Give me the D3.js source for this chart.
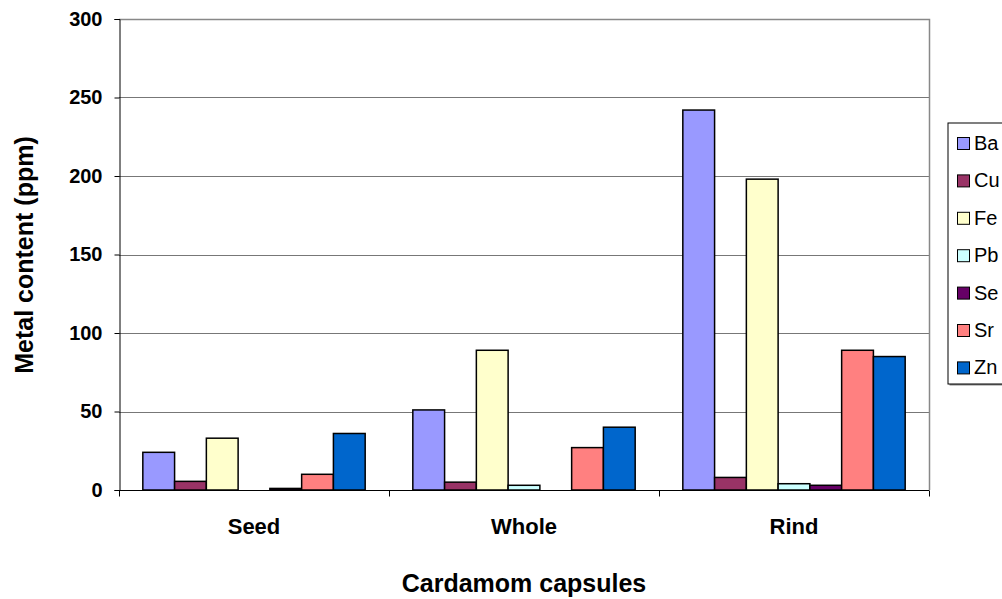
<!DOCTYPE html>
<html>
<head>
<meta charset="utf-8">
<script src="https://cdnjs.cloudflare.com/ajax/libs/d3/7.8.5/d3.min.js"></script>
<style>
  body { margin: 0; background: #fff; }
  svg { font-family: Arial, "Liberation Sans", sans-serif; }
</style>
</head>
<body>
<div id="chart"></div>
<script>
var categories = ['Seed', 'Whole', 'Rind'];
var metals = ['Ba', 'Cu', 'Fe', 'Pb', 'Se', 'Sr', 'Zn'];
var colors = ['#9999FF', '#993366', '#FFFFCC', '#CCFFFF', '#660066', '#FF8080', '#0066CC'];
var baValues = [24, 51, 242];
var cuValues = [5.5, 5, 8];
var feValues = [33, 89, 198];
var pbValues = [0, 3, 4];
var seValues = [1, 0, 3];
var srValues = [10, 27, 89];
var znValues = [36, 40, 85];
var yTicks = [0, 50, 100, 150, 200, 250, 300];

var series = [baValues, cuValues, feValues, pbValues, seValues, srValues, znValues];

var margin = { left: 119, top: 19, right: 929, bottom: 490 };

var svg = d3.select('#chart')
    .append('svg')
    .attr('width', 1002)
    .attr('height', 599);

var x0 = d3.scaleBand()
    .domain(categories)
    .range([margin.left, margin.right]);

// Excel style: gap width 150% -> cluster occupies 7 of 8.5 slots
var x1 = d3.scaleBand()
    .domain(metals)
    .range([x0.bandwidth() * 0.75 / 8.5, x0.bandwidth() * 7.75 / 8.5]);

var y = d3.scaleLinear()
    .domain([0, 300])
    .range([margin.bottom, margin.top]);

// gridlines
svg.append('g')
    .selectAll('line')
    .data(yTicks.filter(d => d > 0 && d < 300))
    .enter()
    .append('line')
    .attr('x1', margin.left)
    .attr('x2', margin.right)
    .attr('y1', d => Math.round(y(d)) + 0.5)
    .attr('y2', d => Math.round(y(d)) + 0.5)
    .style('stroke', '#777')
    .style('stroke-width', 1);

// plot border (top and right)
svg.append('path')
    .attr('d', 'M' + margin.left + ',' + (margin.top + 0.5) + 'H' + (margin.right + 0.5) + 'V' + margin.bottom)
    .style('fill', 'none')
    .style('stroke', '#888')
    .style('stroke-width', 1.5);

// bars
var rows = [];
categories.forEach(function(c, i) {
    metals.forEach(function(m, j) {
        rows.push({ cat: c, metal: m, value: series[j][i], color: colors[j] });
    });
});

svg.append('g')
    .selectAll('rect')
    .data(rows.filter(d => d.value > 0))
    .enter()
    .append('rect')
    .attr('x', d => x0(d.cat) + x1(d.metal))
    .attr('y', d => y(d.value))
    .attr('width', x1.bandwidth())
    .attr('height', d => y(0) - y(d.value))
    .style('fill', d => d.color)
    .style('stroke', '#000')
    .style('stroke-width', 1.5);

// y axis
var yAxis = svg.append('g')
    .attr('transform', 'translate(' + (margin.left + 0.5) + ',0)')
    .call(d3.axisLeft(y).tickValues(yTicks).tickSize(5).tickPadding(12));
yAxis.select('.domain').style('stroke', '#000');
yAxis.selectAll('.tick line').style('stroke', '#000');
yAxis.selectAll('text')
    .style('font-size', '20px')
    .style('font-weight', 'bold')
    .style('fill', '#000');

// x axis
var xAxis = svg.append('g')
    .attr('transform', 'translate(0,' + (margin.bottom + 0.5) + ')');
xAxis.append('line')
    .attr('x1', margin.left)
    .attr('x2', margin.right)
    .style('stroke', '#000');
xAxis.selectAll('.sep')
    .data(categories.concat(['end']))
    .enter()
    .append('line')
    .attr('class', 'sep')
    .attr('x1', (d, i) => Math.round(margin.left + i * x0.step()) + 0.5)
    .attr('x2', (d, i) => Math.round(margin.left + i * x0.step()) + 0.5)
    .attr('y1', 0)
    .attr('y2', 6)
    .style('stroke', '#000');
xAxis.selectAll('text')
    .data(categories)
    .enter()
    .append('text')
    .text(d => d)
    .attr('x', d => x0(d) + x0.bandwidth() / 2)
    .attr('y', 43)
    .style('font-size', '22px')
    .style('font-weight', 'bold')
    .style('text-anchor', 'middle');

// axis titles
svg.append('text')
    .text('Cardamom capsules')
    .attr('x', 524)
    .attr('y', 592)
    .style('font-size', '25px')
    .style('font-weight', 'bold')
    .style('text-anchor', 'middle');

svg.append('text')
    .text('Metal content (ppm)')
    .attr('transform', 'translate(33,255) rotate(-90)')
    .style('font-size', '25px')
    .style('font-weight', 'bold')
    .style('text-anchor', 'middle');

// legend
var legend = svg.append('g').attr('transform', 'translate(948,123)');
legend.append('rect')
    .attr('x', 1.5)
    .attr('y', 1.5)
    .attr('width', 80)
    .attr('height', 261)
    .style('fill', '#888');
legend.append('rect')
    .attr('x', 0)
    .attr('y', 0)
    .attr('width', 80)
    .attr('height', 261)
    .style('fill', '#fff')
    .style('stroke', '#000')
    .style('stroke-width', 1);

var item = legend.selectAll('.item')
    .data(metals)
    .enter()
    .append('g')
    .attr('class', 'item')
    .attr('transform', (d, i) => 'translate(0,' + (20 + i * 37.4) + ')');
item.append('rect')
    .attr('x', 9.5)
    .attr('y', -5.5)
    .attr('width', 12)
    .attr('height', 12)
    .style('fill', (d, i) => colors[i])
    .style('stroke', '#000')
    .style('stroke-width', 1);
item.append('text')
    .text(d => d)
    .attr('x', 26)
    .attr('y', 7)
    .style('font-size', '20px');
</script>
</body>
</html>
